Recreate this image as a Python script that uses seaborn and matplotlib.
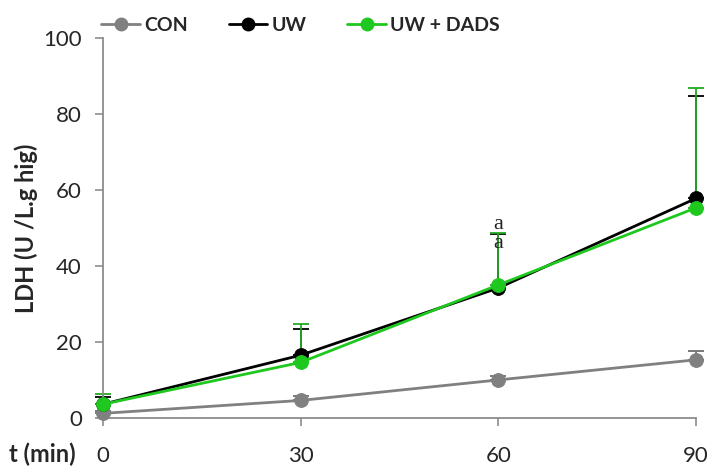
import numpy as np
import pandas as pd
import matplotlib
matplotlib.use("Agg")
import matplotlib.pyplot as plt
import seaborn as sns

# LDH release over time (mean and upper SD)
times = [0, 30, 60, 90]
groups = ["CON", "UW", "UW + DADS"]
con_mean = [1.2, 4.6, 10.0, 15.3]
con_sd = [0.6, 1.2, 1.0, 2.4]
uw_mean = [3.6, 16.5, 34.2, 57.8]
uw_sd = [1.8, 6.9, 14.3, 26.9]
dads_mean = [3.6, 14.6, 35.0, 55.3]
dads_sd = [2.6, 10.1, 13.7, 31.5]
sig_labels = ["a", "a"]
sig_y = [50.8, 46.0]

colors = {"CON": "#808080", "UW": "#000000", "UW + DADS": "#1ec81e"}
err_colors = {"CON": "#707070", "UW": "#000000", "UW + DADS": "#22aa22"}

df = pd.DataFrame({
    "t": times * 3,
    "LDH": con_mean + uw_mean + dads_mean,
    "group": sum([[g] * len(times) for g in groups], []),
})
sds = {"CON": con_sd, "UW": uw_sd, "UW + DADS": dads_sd}

sns.set_style("white")
plt.rcParams["font.family"] = ["Lato", "DejaVu Sans"]

fig = plt.figure(figsize=(7.09, 4.68), dpi=100)
ax = fig.add_axes([0.145, 0.107, 0.837, 0.812])

sns.lineplot(data=df, x="t", y="LDH", hue="group", palette=colors,
             marker="o", markersize=10, markeredgewidth=0.6,
             linewidth=2, ax=ax, legend=False, zorder=3, clip_on=False)
for line in ax.lines:
    line.set_markeredgecolor(line.get_color())

# upward-only error bars, drawn beneath the lines
for g in groups:
    sub = df[df.group == g]
    ax.errorbar(sub.t, sub.LDH, yerr=[np.zeros(len(sub)), sds[g]],
                fmt="none", ecolor=err_colors[g], elinewidth=1.3,
                capsize=6, capthick=1.3, clip_on=False, zorder=2)

for lab, yv in zip(sig_labels, sig_y):
    ax.text(60, yv, lab, ha="center", va="center", fontsize=16,
            family=["Liberation Serif"], color="#222222", zorder=4)

ax.set_xlim(0, 90)
ax.set_ylim(0, 100)
ax.set_xticks(times)
ax.set_yticks([0, 20, 40, 60, 80, 100])
ax.tick_params(axis="x", direction="out", length=6, width=1.2,
               color="#8c8c8c", pad=14, labelsize=16)
ax.tick_params(axis="y", direction="out", length=6, width=1.2,
               color="#8c8c8c", pad=9, labelsize=16)
ax.tick_params(bottom=True, left=True)
for s in ["top", "right"]:
    ax.spines[s].set_visible(False)
for s in ["left", "bottom"]:
    ax.spines[s].set_color("#8c8c8c")
    ax.spines[s].set_linewidth(1.3)

ax.set_xlabel("")
ax.set_ylabel("LDH (U /L.g hig)", fontsize=17, fontweight="bold", labelpad=4)
fig.text(0.012, 0.03, "t (min)", fontsize=17, fontweight="bold", va="center")

handles = [plt.Line2D([0], [0], color=colors[g], marker="o", markersize=9,
                      markeredgecolor=colors[g], linewidth=2) for g in groups]
fig.legend(handles, groups, loc="center left", bbox_to_anchor=(0.118, 0.945),
           ncol=3, frameon=False, prop={"weight": "bold", "size": 14},
           handlelength=2.0, handletextpad=0.2, columnspacing=2.1)

fig.savefig("out.png", dpi=100)
